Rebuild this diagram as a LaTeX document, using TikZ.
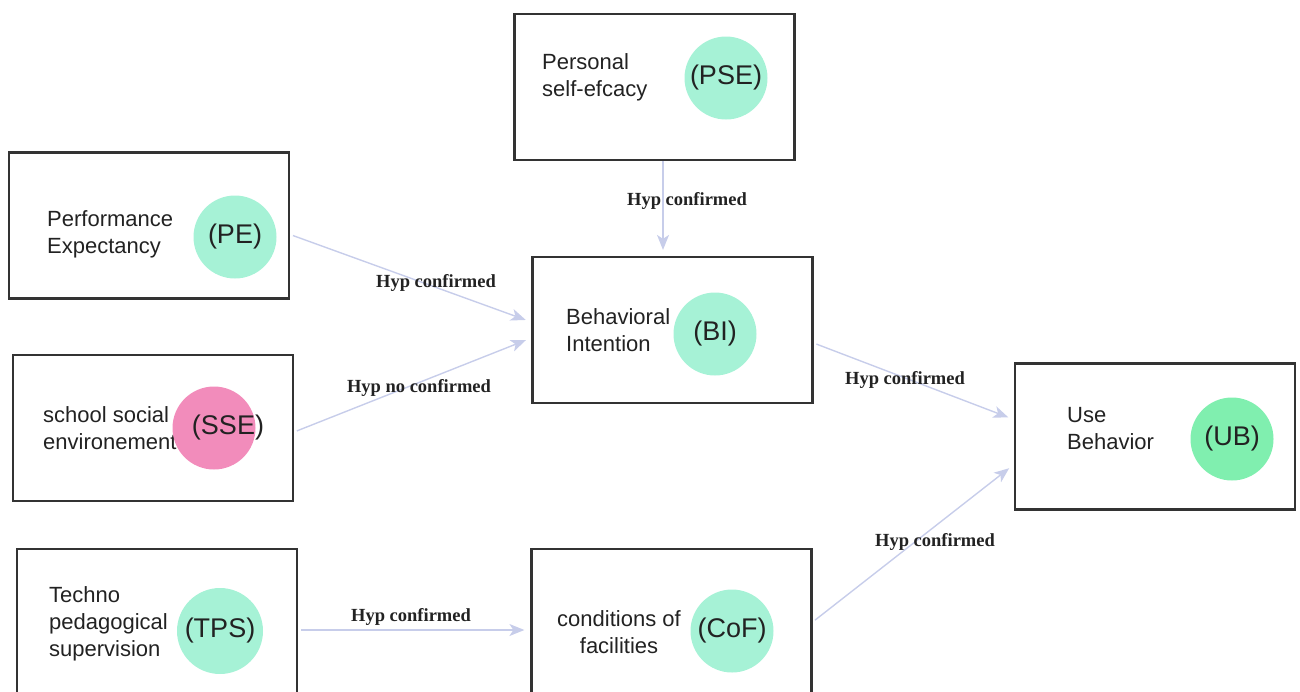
\documentclass[tikz,border=0pt]{standalone}
\usepackage{fontspec}
\setmainfont{Liberation Serif}
\newfontfamily\sansbox{Liberation Sans}
\usetikzlibrary{arrows.meta,positioning}

\definecolor{menta}{HTML}{A6F2D6}
\definecolor{verde}{HTML}{80EFAF}
\definecolor{rosa}{HTML}{F28CBB}
\definecolor{linha}{HTML}{C7CDEA}
\definecolor{borda}{HTML}{333333}
\definecolor{texto}{HTML}{222222}

\begin{document}
\begin{tikzpicture}[x=1pt, y=-1pt,
  >={Stealth[length=15pt,width=12pt,inset=4pt]},
  caixa/.style={draw=borda, line width=2.2pt, minimum width=280pt, minimum height=146pt, inner sep=0pt},
  desc/.style={anchor=west, align=left, text=texto, inner sep=0pt, font=\sansbox\fontsize{22}{27}\selectfont},
  sigla/.style={circle, fill=menta, minimum size=83pt, inner sep=0pt, text=texto, font=\sansbox\fontsize{27}{30}\selectfont},
  hip/.style={text=texto, inner sep=0pt, font=\bfseries\fontsize{18.5}{20}\selectfont},
  seta/.style={->, draw=linha, line width=1.4pt, shorten <=3pt, shorten >=6pt}]

  % --- moldura ---
  \useasboundingbox (0,0) rectangle (1300,691);
  \clip (0,0) rectangle (1300,691);

  % caixas
  \node[caixa] (PSE) at (654.5,87) {};
  \node[caixa] (PE)  at (149,225.5) {};
  \node[caixa] (SSE) at (153,428) {};
  \node[caixa] (BI)  at (672.5,330) {};
  \node[caixa] (UB)  at (1155,436.5) {};
  \node[caixa] (TPS) at (157,622) {};
  \node[caixa] (CoF) at (671.5,622) {};

  % textos das caixas
  \node[desc] (pseTxt) at (542,77.5) {Personal\\self-efcacy};
  \node[desc] (peTxt)  at (47,234.5) {Performance\\Expectancy};
  \node[desc] (sseTxt) at (43,428.5) {school social\\environement};
  \node[desc] (biTxt)  at (566,330.5) {Behavioral\\Intention};
  \node[desc] (ubTxt)  at (1067,428.5) {Use\\Behavior};
  \node[desc] (tpsTxt) at (49,624) {Techno\\pedagogical\\supervision};
  \node[desc, anchor=center, align=center] (cofTxt) at (619,632.5) {conditions of\\facilities};

  % circulos com as siglas
  \node[sigla] (pseC) at (726,78) {(PSE)};
  \node[sigla] (peC)  at (235,237) {(PE)};
  \node[sigla, fill=rosa] (sseC) at (214,428) {};
  \node[sigla, fill=none] (sseSig) at (228,428) {(SSE)};
  \node[sigla] (biC)  at (715,334) {(BI)};
  \node[sigla, fill=verde] (ubC) at (1232,439) {(UB)};
  \node[sigla, minimum size=86pt] (tpsC) at (220,631) {(TPS)};
  \node[sigla] (cofC) at (732,631) {(CoF)};

  % --- setas ---
  \coordinate (pseOut) at ([xshift=8.5pt]PSE.south);
  \draw[seta, shorten <=0pt] (pseOut) -- (pseOut |- BI.north);
  \draw[seta] ([yshift=-9pt]PE.east) -- ([yshift=8pt]BI.west);
  \draw[seta] ([yshift=-4pt]SSE.east) -- ([yshift=-8pt]BI.west);
  \draw[seta] ([yshift=-13pt]BI.east) -- ([yshift=17pt]UB.west);
  \draw[seta] (CoF.east) -- ([yshift=-28pt]UB.west);
  \draw[seta] ([yshift=-8pt]TPS.east) -- ([yshift=-8pt]CoF.west);

  % rotulos das hipoteses
  \node[hip] (h1) at (687,201) {Hyp confirmed};
  \node[hip] (h2) at (436,283) {Hyp confirmed};
  \node[hip] (h3) at (419,388) {Hyp no confirmed};
  \node[hip] (h4) at (905,380) {Hyp confirmed};
  \node[hip] (h5) at (935,542) {Hyp confirmed};
  \node[hip] (h6) at (411,617) {Hyp confirmed};
\end{tikzpicture}
\end{document}
